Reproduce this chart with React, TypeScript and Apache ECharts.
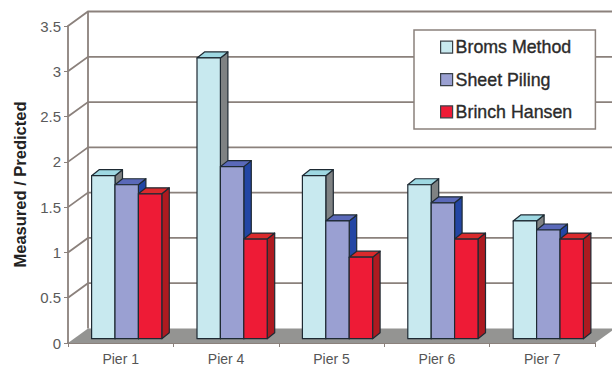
import React, { useEffect, useRef } from "react";
import * as echarts from "echarts";

// Pier load ratios by lateral-capacity method.
const piers = ["Pier 1", "Pier 4", "Pier 5", "Pier 6", "Pier 7"];
const bromsMethod = [1.8, 3.1, 1.8, 1.7, 1.3];
const sheetPiling = [1.7, 1.9, 1.3, 1.5, 1.2];
const brinchHansen = [1.6, 1.1, 0.9, 1.1, 1.1];
const ratioTicks = [0, 0.5, 1, 1.5, 2, 2.5, 3, 3.5];

const palette = {
  broms: { front: "#C8E9EF", top: "#9ED8E2", side: "#7F8283" },
  sheet: { front: "#9AA0D2", top: "#5A69B9", side: "#2346A4" },
  brinch: { front: "#EE1B36", top: "#DA2A2C", side: "#AD1A20" },
};

// Oblique projection offsets: back wall and the plane the bars stand on.
const WALL_DX = 20;
const WALL_DY = 14.5;
const BAR_PLANE_DX = 6;
const BAR_PLANE_DY = 4.3;
const BAR_DEPTH_DX = 7.5;
const BAR_DEPTH_DY = 6;
const FRAME = "#8B817C";
const OUTLINE = "#1E2A33";

function poly(points: number[][], fill: string) {
  return {
    type: "polygon",
    shape: { points },
    style: { fill, stroke: OUTLINE, lineWidth: 1.2, lineJoin: "round" },
  };
}

function barSeries(name: string, values: number[], slot: number, colors: { front: string; top: string; side: string }) {
  return {
    name,
    type: "custom",
    coordinateSystem: "cartesian2d",
    clip: false,
    z: 3 + slot,
    itemStyle: { color: colors.front, borderColor: "#3A4148", borderWidth: 1.2 },
    data: values.map((v, i) => [i, v]),
    renderItem: (_: any, api: any) => {
      const base = api.coord([api.value(0), 0]);
      const top = api.coord([api.value(0), api.value(1)]);
      const width = api.size([1, 0])[0] * 0.222;
      const x0 = top[0] + BAR_PLANE_DX + (slot - 1.5) * width;
      const x1 = x0 + width;
      const yTop = top[1] - BAR_PLANE_DY;
      const yBase = base[1] - BAR_PLANE_DY;
      const ddx = BAR_DEPTH_DX;
      const ddy = BAR_DEPTH_DY;
      return {
        type: "group",
        children: [
          poly([[x1, yTop], [x1 + ddx, yTop - ddy], [x1 + ddx, yBase - ddy], [x1, yBase]], colors.side),
          poly([[x0, yTop], [x0 + ddx, yTop - ddy], [x1 + ddx, yTop - ddy], [x1, yTop]], colors.top),
          poly([[x0, yTop], [x1, yTop], [x1, yBase], [x0, yBase]], colors.front),
        ],
      };
    },
  };
}

// Back wall gridlines, their diagonals down to the axis, and the grey floor.
const wallSeries = {
  name: "wall",
  type: "custom",
  coordinateSystem: "cartesian2d",
  clip: false,
  silent: true,
  z: 1,
  data: ratioTicks.map((t) => [0, t]),
  renderItem: (params: any, api: any) => {
    const sys = params.coordSys;
    const value = api.value(1);
    const y = api.coord([0, value])[1];
    const left = sys.x;
    const right = sys.x + sys.width;
    const stroke = { stroke: FRAME, lineWidth: 1.8, fill: "none" };
    const children: any[] = [];
    if (value === 0) {
      children.push({
        type: "polygon",
        shape: {
          points: [[left, y], [left + WALL_DX, y - WALL_DY], [right + WALL_DX, y - WALL_DY], [right, y]],
        },
        style: { fill: "#949492" },
      });
    } else {
      children.push({
        type: "polyline",
        shape: { points: [[left, y], [left + WALL_DX, y - WALL_DY], [right + WALL_DX, y - WALL_DY]] },
        style: stroke,
      });
    }
    if (value === ratioTicks[ratioTicks.length - 1]) {
      const floorY = api.coord([0, 0])[1];
      children.push({
        type: "line",
        shape: { x1: left + WALL_DX, y1: y - WALL_DY, x2: left + WALL_DX, y2: floorY - WALL_DY },
        style: stroke,
      });
    }
    return { type: "group", children };
  },
};

const legendEntry = (name: string, color: string) => ({
  name,
  itemStyle: { color, borderColor: "#3A4148", borderWidth: 1.2 },
});

export default function App() {
  const ref = useRef<HTMLDivElement>(null);

  useEffect(() => {
    const chart = echarts.init(ref.current!, undefined, { renderer: "svg" });
    chart.setOption({
      animation: false,
      backgroundColor: "#FFFFFF",
      textStyle: { fontFamily: "Liberation Sans" },
      grid: { left: 68, top: 26, width: 527, height: 317, containLabel: false, outerBoundsMode: "none" },
      legend: {
        orient: "vertical",
        left: 414,
        top: 30,
        padding: [8, 23, 8, 26],
        itemWidth: 12,
        itemHeight: 12,
        itemGap: 14,
        icon: "rect",
        backgroundColor: "#FFFFFF",
        borderColor: FRAME,
        borderWidth: 1.5,
        textStyle: {
          fontSize: 17.8,
          color: "#2B2B2B",
          textBorderColor: "#2B2B2B",
          textBorderWidth: 0.35,
          padding: [0, 0, 0, -2],
          lineHeight: 18,
        },
        data: [
          legendEntry("Broms Method", palette.broms.front),
          legendEntry("Sheet Piling", palette.sheet.front),
          legendEntry("Brinch Hansen", palette.brinch.front),
        ],
      },
      xAxis: {
        type: "category",
        data: piers,
        axisLine: { lineStyle: { color: FRAME, width: 1.8 } },
        axisTick: { show: true, alignWithLabel: false, length: 4, lineStyle: { color: FRAME } },
        axisLabel: { fontSize: 14, lineHeight: 14, color: "#555555", margin: 8.5 },
      },
      yAxis: {
        type: "value",
        min: 0,
        max: 3.5,
        interval: 0.5,
        name: "Measured / Predicted",
        nameLocation: "middle",
        nameGap: 40,
        nameTextStyle: { fontSize: 16.5, fontWeight: "bold", color: "#222222" },
        axisLine: { show: true, lineStyle: { color: FRAME, width: 1.8 } },
        axisTick: { show: true, length: 4, lineStyle: { color: FRAME } },
        axisLabel: { fontSize: 15, color: "#5A5A5A", margin: 7 },
        splitLine: { show: false },
      },
      series: [
        wallSeries,
        barSeries("Broms Method", bromsMethod, 0, palette.broms),
        barSeries("Sheet Piling", sheetPiling, 1, palette.sheet),
        barSeries("Brinch Hansen", brinchHansen, 2, palette.brinch),
      ],
    });
    return () => chart.dispose();
  }, []);

  return <div ref={ref} style={{ position: "fixed", left: 0, top: 0, width: 612, height: 366 }} />;
}
